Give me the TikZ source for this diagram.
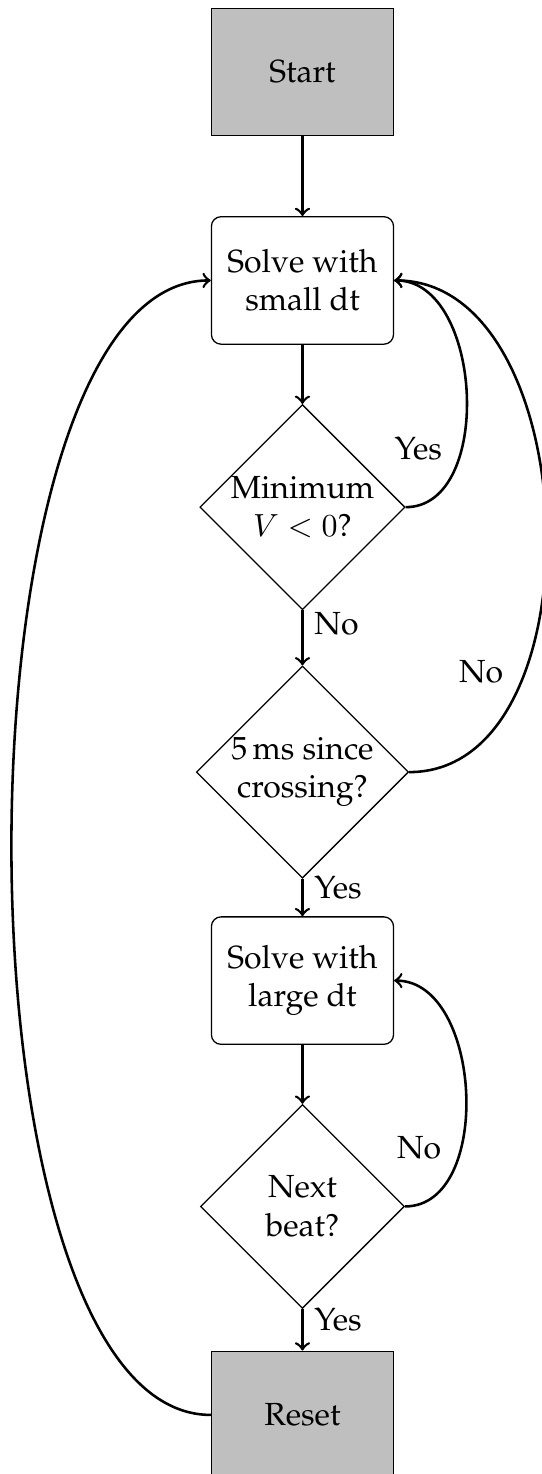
\documentclass[tikz,border=0pt]{standalone}
\usepackage[T1]{fontenc}
\usepackage{palatino}
\usetikzlibrary{shapes.geometric}
\begin{document}
\begin{tikzpicture}
            \tikzstyle{termbox}=[rectangle,draw,fill=gray!50,minimum width=2cm,minimum height=1.4cm]
            \tikzstyle{solvebox}=[rectangle,draw,rounded corners=3pt,fill=white,minimum width=2cm,minimum height=1.4cm,align=center]
            \tikzstyle{decide}=[diamond,draw,aspect=1,inner sep=0pt,minimum width=2.24cm,minimum height=2.24cm,align=center]
            \tikzstyle{flowline}=[->,thick]

            \useasboundingbox (0,0) rectangle (5.942,-16.189);

            %boxes
            \node[termbox] (start) at (3.322,-.79) {Start};
            \node[solvebox] (small) at (3.322,-3.08) {Solve with\\small dt};
            \node[decide] (minv) at (3.322,-5.57) {Minimum\\$V<0$?};
            \node[decide,minimum width=2.33cm,minimum height=2.33cm] (cross) at (3.322,-8.48) {5\,ms since\\crossing?};
            \node[solvebox] (large) at (3.322,-10.77) {Solve with\\large dt};
            \node[decide] (beat) at (3.322,-13.25) {Next\\beat?};
            \node[termbox] (reset) at (3.322,-15.54) {Reset};

            %straight_arrows
            \draw[flowline] (start)--(small);
            \draw[flowline] (small)--(minv);
            \draw[flowline] (minv)--node[near start,right] {No} (cross);
            \draw[flowline] (cross)--node[near start,right] {Yes} (large);
            \draw[flowline] (large)--(beat);
            \draw[flowline] (beat)--node[near start,right] {Yes} (reset);

            %loops
            \draw[flowline] (minv.east) to[out=0,in=0] node[near start,above left] {Yes} (small.east);
            \draw[flowline] (cross.east) to[out=0,in=0] node[near start,above left] {No} (small.east);
            \draw[flowline] (beat.east) to[out=0,in=0] node[near start,above left] {No} (large.east);
            \draw[flowline] (reset.west) to[out=180,in=180,looseness=.6] (small.west);

\end{tikzpicture}
\end{document}
